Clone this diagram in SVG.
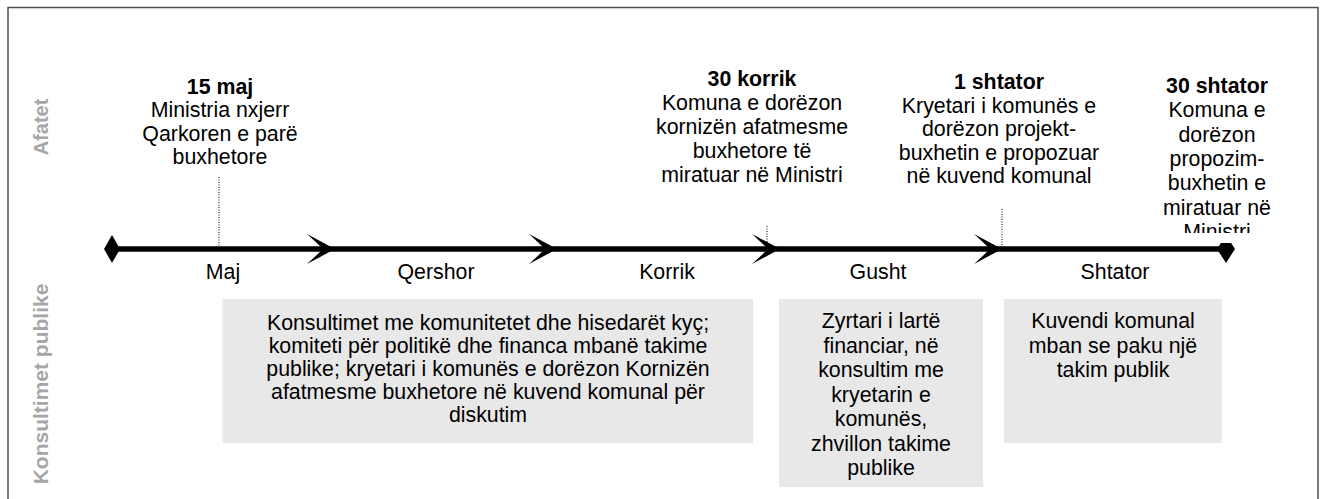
<svg xmlns="http://www.w3.org/2000/svg" width="1328" height="499" viewBox="0 0 1328 499">
<style>
  text { font-family: "Liberation Sans", Arial, sans-serif; font-size: 21.33px; fill: #000; text-anchor: middle; }
  .b { font-weight: bold; }
  .side { font-weight: bold; fill: #a6a6a6; font-size: 20px; }
  .box { fill: #e8e8e8; stroke: none; }
  .dot { stroke: #000; stroke-width: 1; stroke-dasharray: 1 1.5; fill: none; }
  .tl { stroke: #000; stroke-width: 5.5; fill: none; }
  .head { fill: #000; stroke: none; }
</style>
<defs>
  <clipPath id="clip30s"><rect x="1130" y="60" width="170" height="173"/></clipPath>
  <path id="ah" d="M0,0 L-28,-15 Q-17,-5 -12,0 Q-17,5 -28,15 Z"/>
</defs>
<rect x="8" y="7.5" width="1310" height="510" fill="#fff" stroke="#4d4d4d" stroke-width="1.5"/>

<g id="label-afatet"><text class="side" transform="translate(48,127) rotate(-90)">Afatet</text></g>
<g id="label-konsultimet"><text class="side" transform="translate(48,384) rotate(-90)" style="font-size:21px">Konsultimet publike</text></g>

<g id="connectors">
  <line class="tl" x1="112" y1="249" x2="1226" y2="249"/>
  <polygon class="head" points="104,249 112,235 120,249 112,263"/>
  <use href="#ah" class="head" transform="translate(335,249)"/>
  <use href="#ah" class="head" transform="translate(557,249)"/>
  <use href="#ah" class="head" transform="translate(780,249)"/>
  <use href="#ah" class="head" transform="translate(1002,249)"/>
  <polygon class="head" points="1220.9,243 1231.1,243 1235,249 1226,263 1217,249"/>
  <line class="dot" x1="219" y1="177" x2="219" y2="247"/>
  <line class="dot" x1="767" y1="226" x2="767" y2="247"/>
  <line class="dot" x1="1002" y1="209" x2="1002" y2="247"/>
</g>

<g id="event-15maj">
  <text x="220" y="93.5" class="b">15 maj</text>
  <text x="220" y="117">Ministria nxjerr</text>
  <text x="220" y="140.5">Qarkoren e parë</text>
  <text x="220" y="164">buxhetore</text>
</g>
<g id="event-30korrik">
  <text x="752" y="86" class="b">30 korrik</text>
  <text x="752" y="110">Komuna e dorëzon</text>
  <text x="752" y="134">kornizën afatmesme</text>
  <text x="752" y="158">buxhetore të</text>
  <text x="752" y="182">miratuar në Ministri</text>
</g>
<g id="event-1shtator">
  <text x="999" y="89" class="b">1 shtator</text>
  <text x="999" y="112.5">Kryetari i komunës e</text>
  <text x="999" y="136">dorëzon projekt-</text>
  <text x="999" y="159.5">buxhetin e propozuar</text>
  <text x="999" y="183">në kuvend komunal</text>
</g>
<g id="event-30shtator" clip-path="url(#clip30s)">
  <text x="1217" y="93" class="b">30 shtator</text>
  <text x="1217" y="117.3">Komuna e</text>
  <text x="1217" y="141.6">dorëzon</text>
  <text x="1217" y="165.9">propozim-</text>
  <text x="1217" y="190.2">buxhetin e</text>
  <text x="1217" y="214.5">miratuar në</text>
  <text x="1217" y="238.8">Ministri</text>
</g>

<g id="month-maj"><text x="223" y="279">Maj</text></g>
<g id="month-qershor"><text x="436" y="279">Qershor</text></g>
<g id="month-korrik"><text x="667" y="279">Korrik</text></g>
<g id="month-gusht"><text x="878" y="279">Gusht</text></g>
<g id="month-shtator"><text x="1115" y="279">Shtator</text></g>

<g id="box-konsultimet">
  <rect class="box" x="222.5" y="299" width="530.5" height="144"/>
  <text x="488" y="330">Konsultimet me komunitetet dhe hisedarët kyç;</text>
  <text x="488" y="353">komiteti për politikë dhe financa mbanë takime</text>
  <text x="488" y="376">publike; kryetari i komunës e dorëzon Kornizën</text>
  <text x="488" y="399">afatmesme buxhetore në kuvend komunal për</text>
  <text x="488" y="422">diskutim</text>
</g>
<g id="box-zyrtari">
  <rect class="box" x="779" y="299" width="204" height="188"/>
  <text x="881" y="328">Zyrtari i lartë</text>
  <text x="881" y="352.5">financiar, në</text>
  <text x="881" y="377">konsultim me</text>
  <text x="881" y="401.5">kryetarin e</text>
  <text x="881" y="426">komunës,</text>
  <text x="881" y="450.5">zhvillon takime</text>
  <text x="881" y="475">publike</text>
</g>
<g id="box-kuvendi">
  <rect class="box" x="1004" y="299" width="218" height="144"/>
  <text x="1113" y="328">Kuvendi komunal</text>
  <text x="1113" y="352.5">mban se paku një</text>
  <text x="1113" y="377">takim publik</text>
</g>
</svg>
